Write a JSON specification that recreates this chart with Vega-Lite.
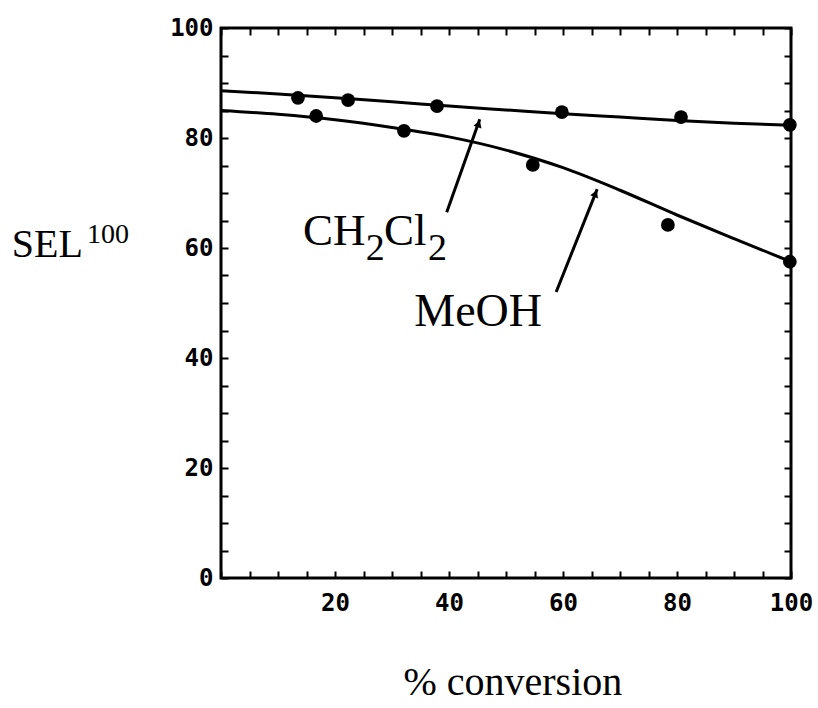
{
  "$schema": "https://vega.github.io/schema/vega-lite/v6.json",
  "width": 570,
  "height": 550,
  "autosize": "none",
  "padding": {"left": 221, "top": 28, "right": 27, "bottom": 130},
  "background": "white",
  "config": {
    "view": {"stroke": "black", "strokeWidth": 3},
    "axis": {
      "grid": false,
      "domain": false,
      "ticks": true,
      "tickColor": "black",
      "tickWidth": 2,
      "tickSize": -7,
      "labelFont": "DejaVu Sans Mono",
      "labelFontWeight": "bold",
      "labelFontSize": 24,
      "labelColor": "black",
      "title": null
    }
  },
  "resolve": {"axis": {"x": "independent", "y": "independent"}},
  "layer": [
    {
      "data": {"values": [
        {"series": "CH2Cl2", "x": 0, "y": 88.6},
        {"series": "CH2Cl2", "x": 10, "y": 88.0},
        {"series": "CH2Cl2", "x": 20, "y": 87.3},
        {"series": "CH2Cl2", "x": 30, "y": 86.6},
        {"series": "CH2Cl2", "x": 40, "y": 85.8},
        {"series": "CH2Cl2", "x": 50, "y": 85.1},
        {"series": "CH2Cl2", "x": 60, "y": 84.4},
        {"series": "CH2Cl2", "x": 70, "y": 83.8},
        {"series": "CH2Cl2", "x": 80, "y": 83.2},
        {"series": "CH2Cl2", "x": 90, "y": 82.7},
        {"series": "CH2Cl2", "x": 100, "y": 82.3},
        {"series": "MeOH", "x": 0, "y": 85.0},
        {"series": "MeOH", "x": 10, "y": 84.3},
        {"series": "MeOH", "x": 20, "y": 83.3},
        {"series": "MeOH", "x": 30, "y": 81.9},
        {"series": "MeOH", "x": 40, "y": 80.2},
        {"series": "MeOH", "x": 50, "y": 77.8},
        {"series": "MeOH", "x": 60, "y": 74.6},
        {"series": "MeOH", "x": 70, "y": 70.5},
        {"series": "MeOH", "x": 80, "y": 66.0},
        {"series": "MeOH", "x": 90, "y": 61.7},
        {"series": "MeOH", "x": 100, "y": 57.5}
      ]},
      "mark": {"type": "line", "interpolate": "monotone", "color": "black", "strokeWidth": 3},
      "encoding": {
        "x": {"field": "x", "type": "quantitative", "scale": {"domain": [0, 100], "nice": false},
              "axis": {"orient": "bottom", "values": [0,5,10,15,20,25,30,35,40,45,50,55,60,65,70,75,80,85,90,95,100],
                       "labelExpr": "datum.value % 20 === 0 && datum.value > 0 ? datum.label : ''", "labelPadding": 20, "labelFlush": false}},
        "y": {"field": "y", "type": "quantitative", "scale": {"domain": [0, 100], "nice": false},
              "axis": {"orient": "left", "values": [0,5,10,15,20,25,30,35,40,45,50,55,60,65,70,75,80,85,90,95,100],
                       "labelExpr": "datum.value % 20 === 0 ? datum.label : ''", "labelPadding": 15}},
        "detail": {"field": "series"}
      }
    },
    {
      "data": {"values": [
        {"series": "CH2Cl2", "x": 13.5, "y": 87.3},
        {"series": "CH2Cl2", "x": 22.3, "y": 86.9},
        {"series": "CH2Cl2", "x": 37.9, "y": 85.8},
        {"series": "CH2Cl2", "x": 59.8, "y": 84.7},
        {"series": "CH2Cl2", "x": 80.7, "y": 83.8},
        {"series": "CH2Cl2", "x": 99.8, "y": 82.4},
        {"series": "MeOH", "x": 16.7, "y": 84.0},
        {"series": "MeOH", "x": 32.1, "y": 81.3},
        {"series": "MeOH", "x": 54.7, "y": 75.1},
        {"series": "MeOH", "x": 78.4, "y": 64.2},
        {"series": "MeOH", "x": 99.8, "y": 57.5}
      ]},
      "mark": {"type": "circle", "color": "black", "opacity": 1, "size": 190},
      "encoding": {
        "x": {"field": "x", "type": "quantitative", "axis": {"orient": "top", "values": [0,5,10,15,20,25,30,35,40,45,50,55,60,65,70,75,80,85,90,95,100], "labels": false}},
        "y": {"field": "y", "type": "quantitative", "axis": {"orient": "right", "values": [0,5,10,15,20,25,30,35,40,45,50,55,60,65,70,75,80,85,90,95,100], "labels": false}}
      }
    },
    {
      "data": {"values": [
        {"arrow": "CH2Cl2", "x": 39.6, "y": 66.5, "x2": 45.4, "y2": 83.4},
        {"arrow": "MeOH", "x": 58.8, "y": 52.0, "x2": 66.0, "y2": 70.7}
      ]},
      "mark": {"type": "rule", "color": "black", "strokeWidth": 3},
      "encoding": {
        "x": {"field": "x", "type": "quantitative", "axis": null},
        "y": {"field": "y", "type": "quantitative", "axis": null},
        "x2": {"field": "x2"},
        "y2": {"field": "y2"}
      }
    },
    {
      "data": {"values": [{"x": 45.2, "y": 82.6}]},
      "mark": {"type": "point", "shape": "triangle-up", "filled": true, "color": "black", "opacity": 1, "size": 70, "angle": 19},
      "encoding": {
        "x": {"field": "x", "type": "quantitative", "axis": null},
        "y": {"field": "y", "type": "quantitative", "axis": null}
      }
    },
    {
      "data": {"values": [{"x": 65.7, "y": 69.9}]},
      "mark": {"type": "point", "shape": "triangle-up", "filled": true, "color": "black", "opacity": 1, "size": 70, "angle": 22},
      "encoding": {
        "x": {"field": "x", "type": "quantitative", "axis": null},
        "y": {"field": "y", "type": "quantitative", "axis": null}
      }
    },
    {
      "data": {"values": [
        {"t": "SEL", "x": -36.7, "y": 58.4}
      ]},
      "mark": {"type": "text", "font": "Liberation Serif", "fontSize": 40, "align": "left", "baseline": "alphabetic", "color": "black"},
      "encoding": {
        "x": {"field": "x", "type": "quantitative", "axis": null},
        "y": {"field": "y", "type": "quantitative", "axis": null},
        "text": {"field": "t"}
      }
    },
    {
      "data": {"values": [
        {"t": "100", "x": -23.5, "y": 60.9}
      ]},
      "mark": {"type": "text", "font": "Liberation Serif", "fontSize": 28, "align": "left", "baseline": "alphabetic", "color": "black"},
      "encoding": {
        "x": {"field": "x", "type": "quantitative", "axis": null},
        "y": {"field": "y", "type": "quantitative", "axis": null},
        "text": {"field": "t"}
      }
    },
    {
      "data": {"values": [
        {"t": "CH", "x": 14.4, "y": 60.5},
        {"t": "Cl", "x": 28.6, "y": 60.5}
      ]},
      "mark": {"type": "text", "font": "Liberation Serif", "fontSize": 45, "align": "left", "baseline": "alphabetic", "color": "black"},
      "encoding": {
        "x": {"field": "x", "type": "quantitative", "axis": null},
        "y": {"field": "y", "type": "quantitative", "axis": null},
        "text": {"field": "t"}
      }
    },
    {
      "data": {"values": [
        {"t": "2", "x": 25.4, "y": 57.8},
        {"t": "2", "x": 36.3, "y": 57.8}
      ]},
      "mark": {"type": "text", "font": "Liberation Serif", "fontSize": 38, "align": "left", "baseline": "alphabetic", "color": "black"},
      "encoding": {
        "x": {"field": "x", "type": "quantitative", "axis": null},
        "y": {"field": "y", "type": "quantitative", "axis": null},
        "text": {"field": "t"}
      }
    },
    {
      "data": {"values": [
        {"t": "MeOH", "x": 33.9, "y": 45.8}
      ]},
      "mark": {"type": "text", "font": "Liberation Serif", "fontSize": 46, "align": "left", "baseline": "alphabetic", "color": "black"},
      "encoding": {
        "x": {"field": "x", "type": "quantitative", "axis": null},
        "y": {"field": "y", "type": "quantitative", "axis": null},
        "text": {"field": "t"}
      }
    },
    {
      "data": {"values": [
        {"t": "% conversion", "x": 51.2, "y": -21.2}
      ]},
      "mark": {"type": "text", "font": "Liberation Serif", "fontSize": 40, "align": "center", "baseline": "alphabetic", "color": "black"},
      "encoding": {
        "x": {"field": "x", "type": "quantitative", "axis": null},
        "y": {"field": "y", "type": "quantitative", "axis": null},
        "text": {"field": "t"}
      }
    }
  ]
}
